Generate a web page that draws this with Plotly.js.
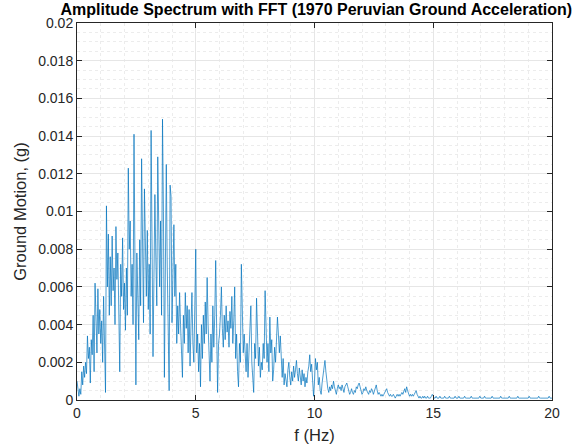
<!DOCTYPE html>
<html>
<head>
<meta charset="utf-8">
<script src="https://cdn.plot.ly/plotly-3.0.1.min.js"></script>
<style>html,body{margin:0;padding:0;background:#fff;}#chart{width:573px;height:448px;}</style>
</head>
<body>
<div id="chart"></div>
<script>
// Frequency bin spacing (Hz) and amplitude values, in units of 1e-4 g
const binWidthHz = 0.04;
const amp_1e4g_0to5Hz = [
  10,4,2,6,3,15,8,18,12,20,14,34,22,28,9,32,24,45,15,62,38,25,59,35,48,
  30,42,20,55,14,4,103,60,88,45,76,50,87,58,70,40,92,64,78,30,15,72,55,86,48,
  62,37,70,45,123,80,95,55,72,40,141,60,8,78,55,32,85,50,128,60,41,112,70,55,90,
  48,72,35,143,90,23,65,109,75,50,129,85,60,95,45,149,100,12,60,125,70,40,5,114,108,
  41,60,93,55,72,30,50,35,57,40,28,12,45,30,57,38,50,25,48,18,40,57,30,20,50
];
const amp_1e4g_5to10Hz = [
  80,25,35,15,30,7,40,22,45,30,52,35,65,40,20,10,35,20,50,28,45,74,38,4,30,
  35,45,60,38,28,45,32,50,36,42,28,47,38,55,30,42,60,22,35,15,7,30,20,72,45,
  25,35,21,15,30,12,25,38,50,20,10,4,30,22,54,30,18,28,12,20,16,30,22,58,35,
  20,30,15,44,25,32,10,16,28,20,30,44,35,25,34,20,12,22,8,14,10,7,16,20,12,
  8,15,10,18,12,16,21,14,10,17,12,8,16,10,14,7,12,9,15,18,24,15,19,8,2
];
const amp_1e4g_10to15Hz = [
  10,22,16,20,8,12,5,3,9,14,18,21,15,9,6,4,7,5,8,6,10,7,5,3,6,
  8,6,7,5,8,6,4,7,8,9,7,5,3,4,6,4,3,5,4,7,6,8,9,7,5,
  3,4,6,5,7,5,4,3,5,4,6,5,3,5,7,8,5,3,4,3,2,3,2,3,4,
  5,6,4,3,2,3,2,2,3,2,1,2,3,2,3,2,3,4,3,5,6,4,7,5,3,
  2,3,2,3,2,3,4,5,3,2,1,2,1,1,2,1,2,1,1,2,1,1,1,2,3
];
const amp_1e4g_15to20Hz = [
  2,1,1,2,1,1,1,2,1,1,1,1,2,1,1,1,1,2,1,1,1,1,1,2,1,
  1,1,2,1,1,1,1,1,2,1,1,1,1,1,1,2,1,1,1,1,1,1,1,1,2,
  1,1,1,1,2,1,1,1,1,1,1,1,2,1,1,1,1,1,1,1,1,2,1,1,1,
  1,1,1,1,1,2,1,1,1,1,1,1,1,1,2,1,1,1,1,1,1,1,1,1,1,
  1,2,1,1,1,1,1,1,1,1,1,2,1,1,1,1,1,1,1,1,1,1,2,1,1,
  1
];
const yTickVals = [0,0.002,0.004,0.006,0.008,0.01,0.012,0.014,0.016,0.018,0.02];
const yTickText = ["0","0.002","0.004","0.006","0.008","0.01","0.012","0.014","0.016","0.018","0.02"];
const xTickVals = [0,5,10,15,20];
const xTickText = ["0","5","10","15","20"];

const amps = [].concat(amp_1e4g_0to5Hz, amp_1e4g_5to10Hz, amp_1e4g_10to15Hz, amp_1e4g_15to20Hz);
const freq = amps.map((_, i) => +(i * binWidthHz).toFixed(4));
const ampG = amps.map(v => v * 1e-4);

const axisColor = '#262626';
const fam = 'Liberation Sans, Arial, sans-serif';
const trace = {
  x: freq, y: ampG, type: 'scatter', mode: 'lines',
  line: {color: '#0072BD', width: 0.7}, hoverinfo: 'skip'
};
const common = {
  showline: true, mirror: 'ticks', linecolor: axisColor, linewidth: 1,
  ticks: 'inside', ticklen: 5, tickcolor: axisColor, tickwidth: 1,
  showgrid: true, gridcolor: '#e6e6e6', gridwidth: 1, zeroline: false,
  tickfont: {family: fam, size: 14, color: axisColor},
  minor: {showgrid: true, gridcolor: '#ececec', griddash: 'dot', gridwidth: 1, ticks: ''}
};
const layout = {
  width: 573, height: 448,
  margin: {l: 77, r: 21, t: 23, b: 48},
  paper_bgcolor: '#ffffff', plot_bgcolor: '#ffffff',
  showlegend: false,
  title: {
    text: '<b>Amplitude Spectrum with FFT (1970 Peruvian Ground Acceleration)</b>',
    font: {family: fam, size: 16, color: '#000'},
    x: 0.552, xanchor: 'center', y: 0.98, yanchor: 'middle'
  },
  xaxis: Object.assign({}, common, {
    range: [0, 20], tickvals: xTickVals, ticktext: xTickText,
    minor: Object.assign({}, common.minor, {dtick: 1, tick0: 0}),
    title: {text: 'f (Hz)', font: {family: fam, size: 16.5, color: axisColor}, standoff: 9}
  }),
  yaxis: Object.assign({}, common, {
    range: [0, 0.02], tickvals: yTickVals, ticktext: yTickText,
    minor: Object.assign({}, common.minor, {dtick: 0.0005, tick0: 0}),
    title: {text: 'Ground Motion, (g)', font: {family: fam, size: 16.5, color: axisColor}, standoff: 7}
  })
};
Plotly.newPlot('chart', [trace], layout, {staticPlot: true, displayModeBar: false});
</script>
</body>
</html>
